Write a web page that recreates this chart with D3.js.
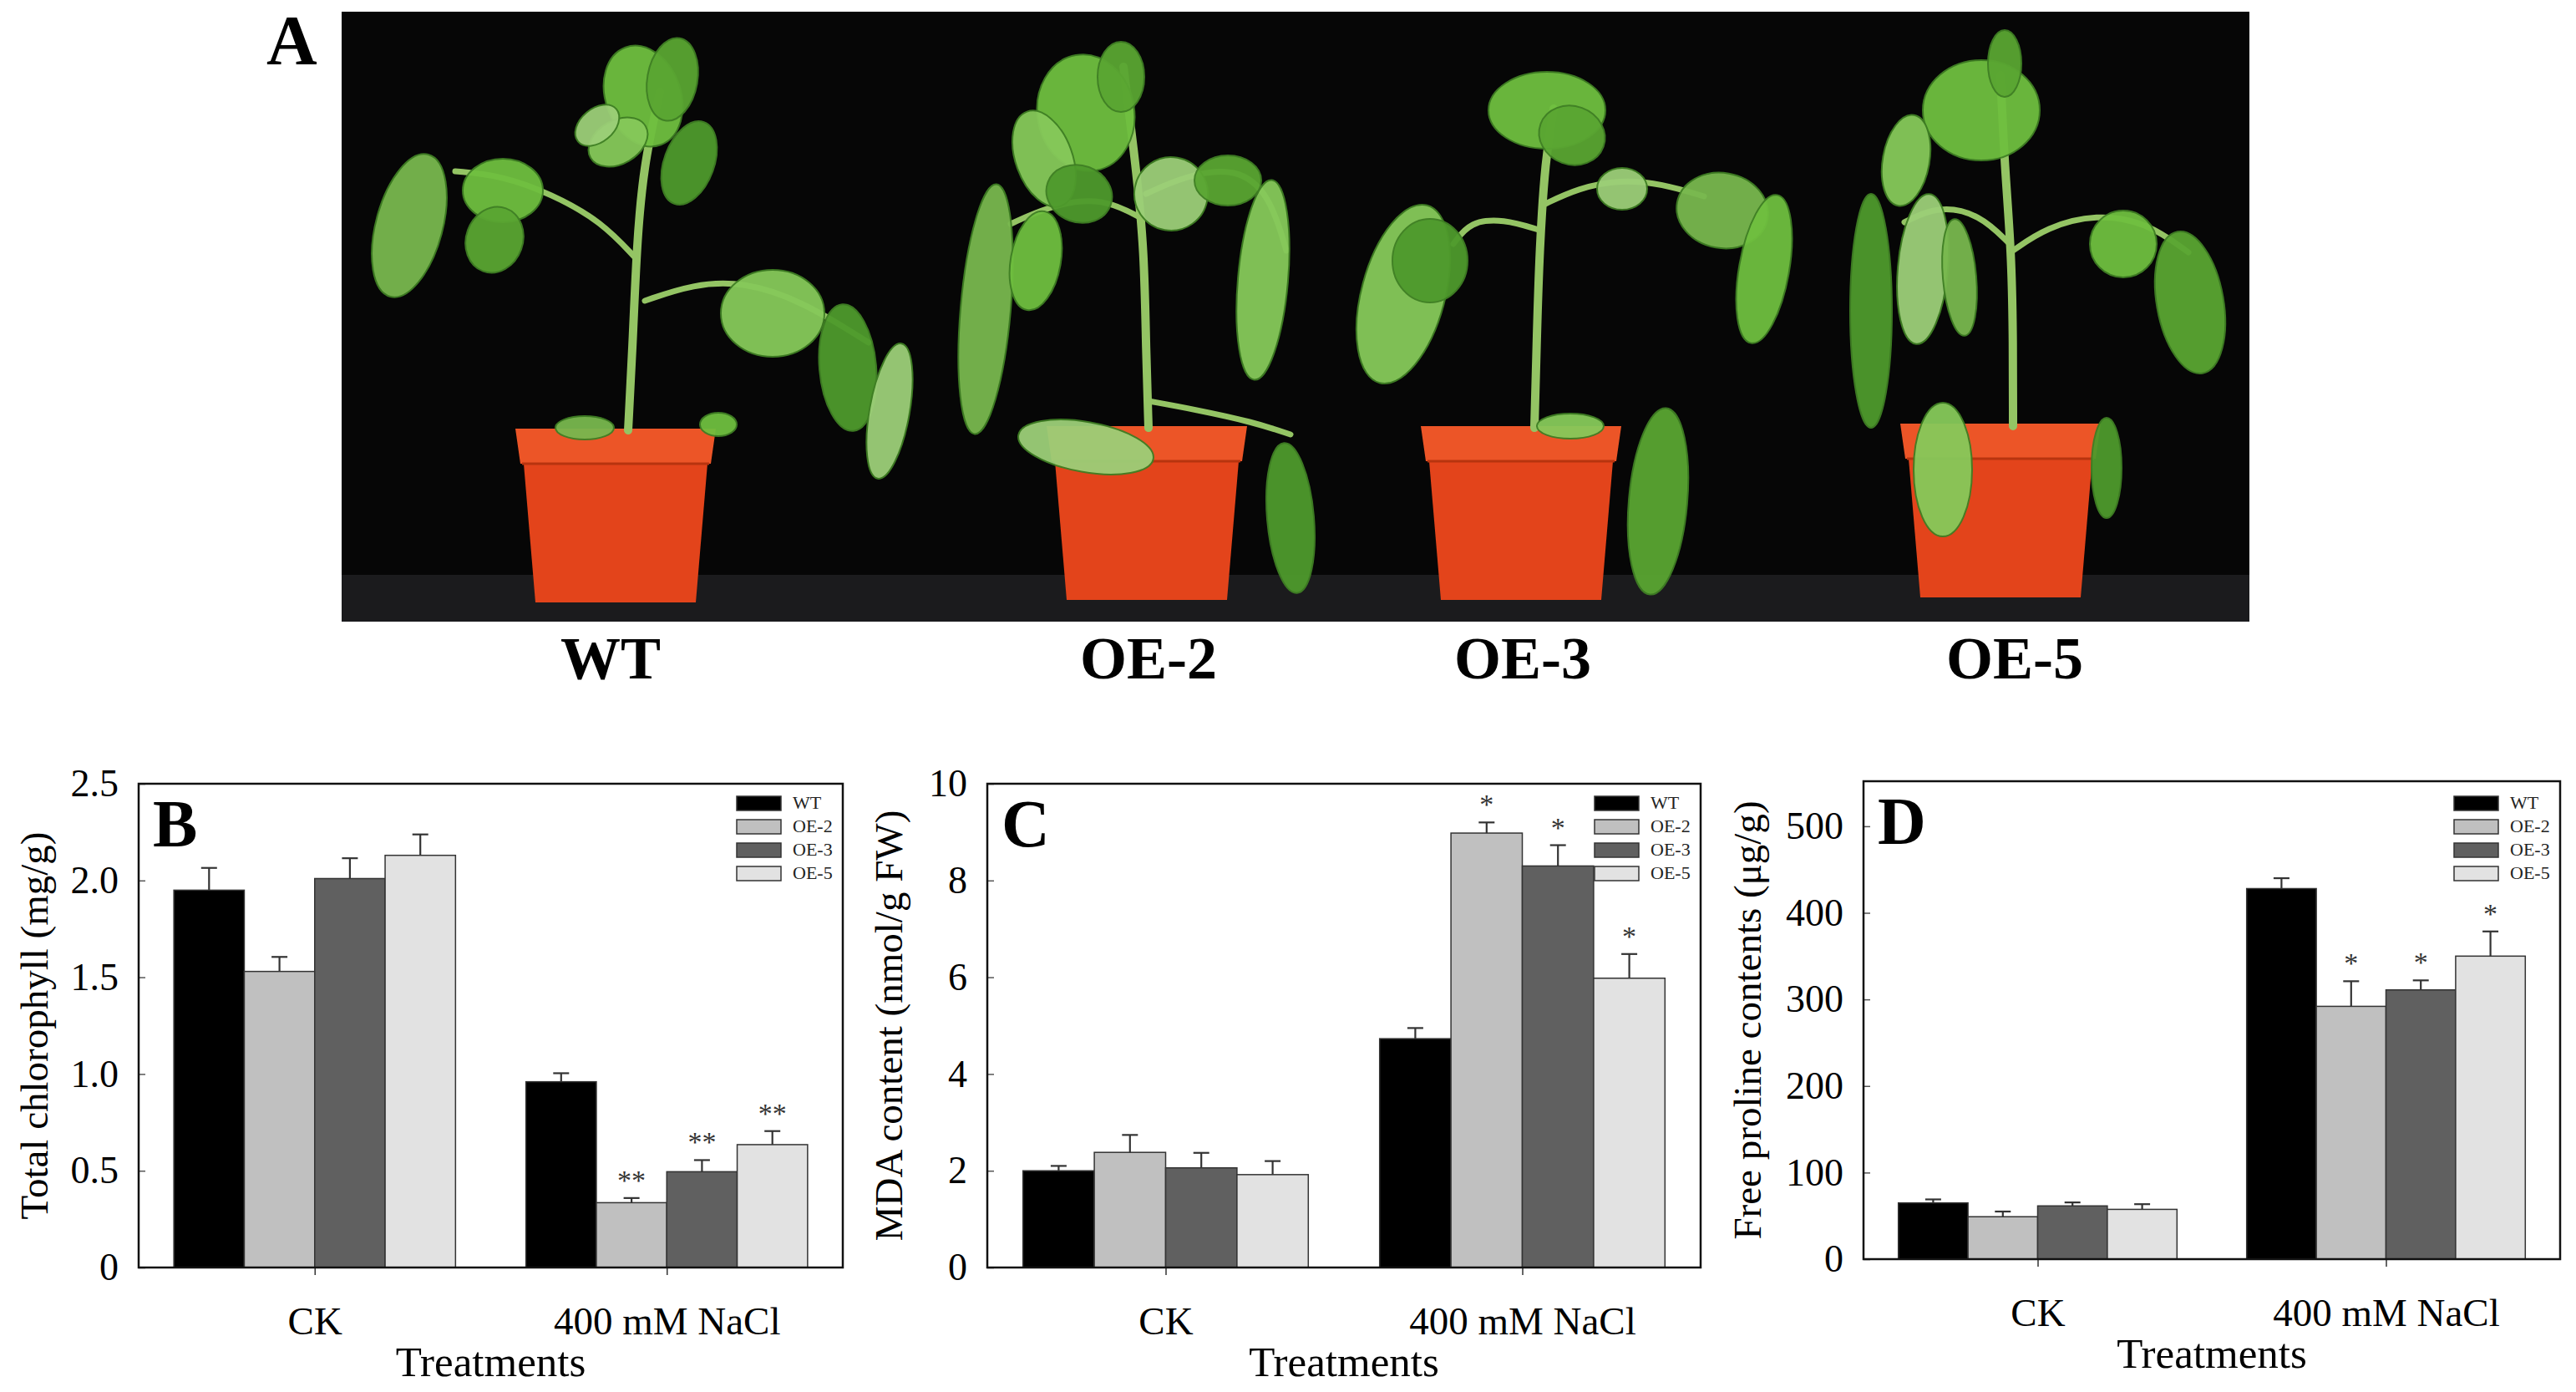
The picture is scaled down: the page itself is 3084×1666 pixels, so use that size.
<!DOCTYPE html>
<html>
<head>
<meta charset="utf-8">
<script src="https://cdn.jsdelivr.net/npm/d3@7"></script>
<style>
  body { margin: 0; background: #fff; }
  svg { display: block; }
  text { font-family: "Liberation Serif", "Times New Roman", serif; }
</style>
</head>
<body>
<div id="figure"></div>
<script>
// values (mean and upper error, per treatment)
const treatments = ["CK", "400 mM NaCl"];
const lines = ["WT", "OE-2", "OE-3", "OE-5"];

const chlorophyllCK = [1.95, 1.53, 2.01, 2.13];
const chlorophyllNaCl = [0.96, 0.335, 0.495, 0.635];
const chlorophyllErrCK = [0.115, 0.075, 0.105, 0.108];
const chlorophyllErrNaCl = [0.044, 0.024, 0.06, 0.07];
const chlorophyllSigNaCl = ["", "**", "**", "**"];
const chlorophyllTicks = [0, 0.5, 1.0, 1.5, 2.0, 2.5];

const mdaCK = [2.0, 2.38, 2.06, 1.92];
const mdaNaCl = [4.73, 8.98, 8.3, 5.98];
const mdaErrCK = [0.1, 0.36, 0.31, 0.28];
const mdaErrNaCl = [0.22, 0.22, 0.43, 0.5];
const mdaSigNaCl = ["", "*", "*", "*"];
const mdaTicks = [0, 2, 4, 6, 8, 10];

const prolineCK = [65, 49, 61.5, 57.5];
const prolineNaCl = [428, 292, 311, 350];
const prolineErrCK = [4, 6, 4, 6];
const prolineErrNaCl = [12, 29, 11, 28.5];
const prolineSigNaCl = ["", "*", "*", "*"];
const prolineTicks = [0, 100, 200, 300, 400, 500];

const photoLabels = ["WT", "OE-2", "OE-3", "OE-5"];

const W = 3084, H = 1666;
const barFill = ["#000000", "#c0c0c0", "#606060", "#e2e2e2"];

const svg = d3.select("#figure").append("svg")
  .attr("width", W)
  .attr("height", H);
svg.append("rect").attr("width", W).attr("height", H).attr("fill", "#fff");

// ---------- panel A: sketch of the photograph ----------
function drawPhoto() {
  const photo = { left: 409, top: 14, right: 2693, bottom: 744 };
  const g = svg.append("g");
  g.append("defs").append("clipPath").attr("id", "photoClip")
    .append("rect")
    .attr("x", photo.left).attr("y", photo.top)
    .attr("width", photo.right - photo.left).attr("height", photo.bottom - photo.top);
  const pg = g.append("g").attr("clip-path", "url(#photoClip)");
  pg.append("rect")
    .attr("x", photo.left).attr("y", photo.top)
    .attr("width", photo.right - photo.left).attr("height", photo.bottom - photo.top)
    .attr("fill", "#060606");
  pg.append("rect")
    .attr("x", photo.left).attr("y", 688)
    .attr("width", photo.right - photo.left).attr("height", 60)
    .attr("fill", "#1b1b1d");

  const curve = d3.line().curve(d3.curveBasis);
  const leafColors = ["#6fbf3f", "#5aa632", "#86c95a", "#4e9a2c", "#9ccf78", "#78b84e"];

  const plants = [
    { pot: 737, rim: 513,
      stems: [[[752,515],[758,400],[762,300],[770,200],[790,110]],
              [[762,310],[720,265],[660,232],[600,210],[545,205]],
              [[772,360],[830,340],[890,337],[960,360],[1040,410]]],
      leaves: [[770,115,45,62,-20],[805,95,30,50,10],[740,170,38,26,-30],[825,195,30,52,20],[715,150,30,20,-40],
               [490,270,40,88,15],[602,228,48,38,0],[592,287,34,40,20],
               [925,375,62,52,0],[1015,440,34,76,-5],[1065,492,24,82,10],[700,512,35,14,0],[860,508,22,14,0]] },
    { pot: 1373, rim: 510,
      stems: [[[1375,512],[1372,420],[1370,300],[1360,200],[1345,80]],
              [[1368,262],[1320,236],[1260,245],[1210,268]],
              [[1372,232],[1420,210],[1480,200],[1520,232],[1540,300]],
              [[1375,480],[1430,490],[1500,505],[1545,520]]],
      leaves: [[1300,135,58,70,-10],[1342,92,28,42,0],[1250,190,34,60,-20],[1292,232,40,34,20],[1402,232,44,44,10],
               [1180,370,30,150,5],[1240,312,30,60,10],
               [1470,216,40,30,0],[1512,335,30,120,5],[1545,620,28,90,-5],[1300,535,82,30,10]] },
    { pot: 1821, rim: 510,
      stems: [[[1837,512],[1840,400],[1843,300],[1850,190],[1860,130]],
              [[1842,275],[1800,262],[1760,265],[1740,292]],
              [[1848,245],[1890,225],[1940,215],[1990,220],[2040,235]]],
      leaves: [[1852,132,70,46,0],[1882,162,40,35,20],[1680,352,50,110,15],[1712,312,45,50,0],
               [1942,226,30,25,0],[2062,252,55,45,10],[2112,322,30,90,10],
               [1985,600,35,112,5],[1880,510,40,15,0]] },
    { pot: 2395, rim: 507,
      stems: [[[2410,510],[2410,400],[2408,300],[2400,200],[2395,90]],
              [[2406,292],[2370,256],[2320,246],[2280,266]],
              [[2410,300],[2450,272],[2510,256],[2570,266],[2620,302]]],
      leaves: [[2372,132,70,60,0],[2400,76,20,40,0],[2282,192,28,55,10],
               [2240,372,25,140,0],[2302,322,30,90,5],[2346,332,20,70,-5],
               [2542,292,40,40,0],[2622,362,40,86,-10],[2326,562,35,80,0],[2522,560,18,60,0]] }
  ];

  plants.forEach(p => {
    const rimW = 240, baseW = 192, band = 42, base = p.rim + 208;
    const potG = pg.append("g");
    potG.append("path")
      .attr("d", `M${p.pot - rimW / 2 + 10},${p.rim + band} L${p.pot + rimW / 2 - 10},${p.rim + band} ` +
                 `L${p.pot + baseW / 2},${base} L${p.pot - baseW / 2},${base} Z`)
      .attr("fill", "#e3441b");
    potG.append("path")
      .attr("d", `M${p.pot - rimW / 2},${p.rim} L${p.pot + rimW / 2},${p.rim} ` +
                 `L${p.pot + rimW / 2 - 6},${p.rim + band} L${p.pot - rimW / 2 + 6},${p.rim + band} Z`)
      .attr("fill", "#ec5527");
    potG.append("line")
      .attr("x1", p.pot - rimW / 2 + 8).attr("x2", p.pot + rimW / 2 - 8)
      .attr("y1", p.rim + band).attr("y2", p.rim + band)
      .attr("stroke", "#b7340f").attr("stroke-width", 3);

    const plantG = pg.append("g");
    plantG.selectAll("path.stem").data(p.stems).join("path")
      .attr("class", "stem")
      .attr("d", d => curve(d))
      .attr("fill", "none")
      .attr("stroke", "#94c464")
      .attr("stroke-width", (d, i) => i === 0 ? 10 : 7)
      .attr("stroke-linecap", "round");
    plantG.selectAll("ellipse").data(p.leaves).join("ellipse")
      .attr("cx", d => d[0]).attr("cy", d => d[1])
      .attr("rx", d => d[2]).attr("ry", d => d[3])
      .attr("transform", d => `rotate(${d[4]},${d[0]},${d[1]})`)
      .attr("fill", (d, i) => leafColors[i % leafColors.length])
      .attr("stroke", "#3f7f24")
      .attr("stroke-width", 2)
      .attr("opacity", 0.95);
  });

  g.append("text")
    .attr("x", 319).attr("y", 77)
    .attr("font-size", 84).attr("font-weight", "bold")
    .text("A");

  const labelX = [731, 1375, 1823, 2412];
  g.selectAll("text.plabel").data(photoLabels).join("text")
    .attr("class", "plabel")
    .attr("x", (d, i) => labelX[i]).attr("y", 812)
    .attr("text-anchor", "middle")
    .attr("font-size", 72).attr("font-weight", "bold")
    .text(d => d);
}

// ---------- panels B, C, D ----------
function drawPanel(p) {
  const w = p.right - p.left, h = p.bottom - p.top;
  const g = svg.append("g").attr("transform", `translate(${p.left},${p.top})`);

  const y = d3.scaleLinear().domain([0, p.yMax]).range([h, 0]);
  const x0 = d3.scalePoint().domain(treatments).range([0, w]).padding(0.5);
  const bw = w * 0.1;
  const x1 = d3.scaleBand().domain(lines).range([-2 * bw, 2 * bw]);

  const rows = treatments.flatMap((t, i) => lines.map((l, j) => ({
    t, l, j, v: p.means[i][j], e: p.errs[i][j], s: p.sig[i][j]
  })));

  g.selectAll("rect.bar").data(rows).join("rect")
    .attr("class", "bar")
    .attr("x", d => x0(d.t) + x1(d.l))
    .attr("y", d => y(d.v))
    .attr("width", x1.bandwidth())
    .attr("height", d => h - y(d.v))
    .attr("fill", d => barFill[d.j])
    .attr("stroke", "#333")
    .attr("stroke-width", 1.5);

  const cx = d => x0(d.t) + x1(d.l) + x1.bandwidth() / 2;
  g.selectAll("line.err").data(rows).join("line")
    .attr("class", "err")
    .attr("x1", cx).attr("x2", cx)
    .attr("y1", d => y(d.v)).attr("y2", d => y(d.v + d.e))
    .attr("stroke", "#333").attr("stroke-width", 2.2);
  g.selectAll("line.cap").data(rows).join("line")
    .attr("class", "cap")
    .attr("x1", d => cx(d) - 9.5).attr("x2", d => cx(d) + 9.5)
    .attr("y1", d => y(d.v + d.e)).attr("y2", d => y(d.v + d.e))
    .attr("stroke", "#333").attr("stroke-width", 2.2);

  g.selectAll("text.sig").data(rows.filter(d => d.s)).join("text")
    .attr("class", "sig")
    .attr("x", cx)
    .attr("y", d => y(d.v + d.e) - 10)
    .attr("text-anchor", "middle")
    .attr("font-size", 34)
    .attr("fill", "#333")
    .text(d => d.s);

  // axes
  const yAxis = g.append("g")
    .call(d3.axisLeft(y).tickValues(p.ticks).tickSize(-8).tickPadding(24).tickFormat(p.fmt));
  yAxis.select(".domain").remove();
  yAxis.selectAll("line").attr("stroke", "#555").attr("stroke-width", 1.5);
  yAxis.selectAll("text").attr("font-size", 46).attr("fill", "#000");

  const xAxis = g.append("g")
    .attr("transform", `translate(0,${h})`)
    .call(d3.axisBottom(x0).tickSize(9).tickPadding(38));
  xAxis.select(".domain").remove();
  xAxis.selectAll("line").attr("stroke", "#333").attr("stroke-width", 1.5);
  xAxis.selectAll("text").attr("font-size", 47).attr("fill", "#000");

  g.append("rect")
    .attr("width", w).attr("height", h)
    .attr("fill", "none")
    .attr("stroke", "#111")
    .attr("stroke-width", 2.5);

  // panel letter
  g.append("text")
    .attr("x", 17).attr("y", 75)
    .attr("font-size", 80).attr("font-weight", "bold")
    .text(p.letter);

  // legend
  const leg = g.append("g").attr("transform", `translate(${w - 127},${p.legendTop})`);
  const item = leg.selectAll("g").data(lines).join("g")
    .attr("transform", (d, i) => `translate(0,${i * 28})`);
  item.append("rect")
    .attr("width", 53).attr("height", 17)
    .attr("fill", (d, i) => barFill[i])
    .attr("stroke", "#333").attr("stroke-width", 1.5);
  item.append("text")
    .attr("x", 67).attr("y", 15)
    .attr("font-size", 22).attr("fill", "#222")
    .text(d => d);

  // axis titles
  svg.append("text")
    .attr("transform", `translate(${p.labelX},${(p.top + p.bottom) / 2}) rotate(-90)`)
    .attr("text-anchor", "middle")
    .attr("dy", "0.35em")
    .attr("font-size", 47)
    .text(p.yLabel);
  svg.append("text")
    .attr("x", (p.left + p.right) / 2)
    .attr("y", p.bottom + 130)
    .attr("text-anchor", "middle")
    .attr("font-size", 51)
    .text("Treatments");
}

drawPhoto();

drawPanel({
  letter: "B", left: 166, right: 1009, top: 938, bottom: 1517, labelX: 41, legendTop: 15,
  yMax: 2.5, ticks: chlorophyllTicks, fmt: d => d === 0 ? "0" : d3.format(".1f")(d),
  means: [chlorophyllCK, chlorophyllNaCl],
  errs: [chlorophyllErrCK, chlorophyllErrNaCl],
  sig: [["", "", "", ""], chlorophyllSigNaCl],
  yLabel: "Total chlorophyll (mg/g)"
});

drawPanel({
  letter: "C", left: 1182, right: 2036, top: 938, bottom: 1517, labelX: 1064, legendTop: 15,
  yMax: 10, ticks: mdaTicks, fmt: d3.format("d"),
  means: [mdaCK, mdaNaCl],
  errs: [mdaErrCK, mdaErrNaCl],
  sig: [["", "", "", ""], mdaSigNaCl],
  yLabel: "MDA content (nmol/g FW)"
});

drawPanel({
  letter: "D", left: 2231, right: 3065, top: 935, bottom: 1507, labelX: 2092, legendTop: 18,
  yMax: 552, ticks: prolineTicks, fmt: d3.format("d"),
  means: [prolineCK, prolineNaCl],
  errs: [prolineErrCK, prolineErrNaCl],
  sig: [["", "", "", ""], prolineSigNaCl],
  yLabel: "Free proline contents (\u03bcg/g)"
});
</script>
</body>
</html>
